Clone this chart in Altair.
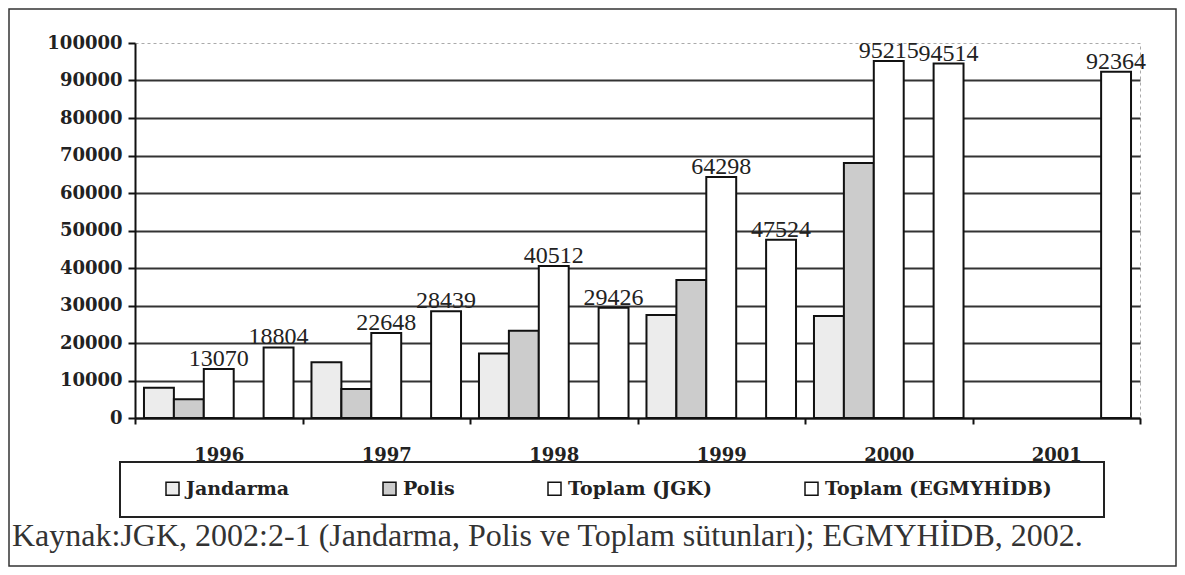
import altair as alt
import pandas as pd

years = ["1996", "1997", "1998", "1999", "2000", "2001"]
series_names = ["Jandarma", "Polis", "Toplam (JGK)", "Toplam (EGMYHİDB)"]
jandarma = [8100, 14900, 17200, 27500, 27200, None]
polis = [4970, 7748, 23300, 36800, 68000, None]
toplam_jgk = [13070, 22648, 40512, 64298, 95215, None]
toplam_egm = [18804, 28439, 29426, 47524, 94514, 92364]
y_ticks = list(range(0, 100001, 10000))
caption = "Kaynak:JGK, 2002:2-1 (Jandarma, Polis ve Toplam sütunları); EGMYHİDB, 2002."

rows = []
for name, vals in zip(series_names, [jandarma, polis, toplam_jgk, toplam_egm]):
    for yr, v in zip(years, vals):
        if v is not None:
            rows.append({"year": yr, "series": name, "value": v})
df = pd.DataFrame(rows)

SERIF = "Liberation Serif"
BOLD_SERIF = "DejaVu Serif"

slot_domain = ["Jandarma", "Polis", "Toplam (JGK)", "-", "Toplam (EGMYHİDB)"]
fill_range = ["#ececec", "#cccccc", "#ffffff", "#ffffff"]

x_axis = alt.Axis(title=None, labelAngle=0, tickBand="extent", tickSize=6,
                  labelPadding=22, domainColor="#111", domainWidth=2,
                  tickColor="#111", tickWidth=2, grid=False,
                  labelFont=BOLD_SERIF, labelFontWeight="bold",
                  labelFontSize=18, labelColor="#222")
y_axis = alt.Axis(title=None, values=y_ticks, tickCount=11, format="d", tickSize=7,
                  labelPadding=6, labelOverlap=False, grid=True,
                  gridColor="#333", gridWidth=2,
                  gridOpacity={"condition": {"test": "datum.value === 100000", "value": 0}, "value": 1},
                  domainColor="#111", domainWidth=2, tickColor="#111", tickWidth=2,
                  labelFont=BOLD_SERIF, labelFontWeight="bold",
                  labelFontSize=18, labelColor="#222")
x_scale = alt.Scale(domain=years, paddingInner=0, paddingOuter=0)
xo_scale = alt.Scale(domain=slot_domain, paddingInner=0, paddingOuter=0.3)
y_scale = alt.Scale(domain=[0, 100000], nice=False)

bars = alt.Chart(df).mark_bar(stroke="#111", strokeWidth=2).encode(
    x=alt.X("year:N", sort=years, scale=x_scale, axis=x_axis),
    xOffset=alt.XOffset("series:N", scale=xo_scale),
    y=alt.Y("value:Q", scale=y_scale, axis=y_axis),
    fill=alt.Fill("series:N",
                  scale=alt.Scale(domain=series_names, range=fill_range),
                  legend=alt.Legend(title=None, orient="none", legendX=28, legendY=436,
                                    direction="horizontal", columns=4, columnPadding=90,
                                    symbolType="square", symbolSize=169,
                                    symbolStrokeColor="#111", symbolStrokeWidth=1.5,
                                    labelFont=BOLD_SERIF, labelFontWeight="bold",
                                    labelFontSize=19, labelColor="#222", labelOffset=4,
                                    labelLimit=400)),
)

labels = alt.Chart(df).transform_filter(
    alt.FieldOneOfPredicate(field="series", oneOf=["Toplam (JGK)", "Toplam (EGMYHİDB)"])
).mark_text(font=SERIF, fontSize=24, dy=-3, baseline="alphabetic",
            color="#222").encode(
    x=alt.X("year:N", sort=years, scale=x_scale, axis=x_axis),
    xOffset=alt.XOffset("series:N", scale=xo_scale),
    y=alt.Y("value:Q", scale=y_scale, axis=y_axis),
    text=alt.Text("value:Q", format="d"),
)

one = pd.DataFrame({"k": [0]})
frame = alt.Chart(one).mark_rect(filled=False, stroke="#333", strokeWidth=1.5).encode(
    x=alt.value(-126), x2=alt.value(1041), y=alt.value(-34), y2=alt.value(523))
legend_box = alt.Chart(one).mark_rect(filled=False, stroke="#222", strokeWidth=2).encode(
    x=alt.value(-15), x2=alt.value(969), y=alt.value(419), y2=alt.value(474))
cap = alt.Chart(one).mark_text(font=SERIF, fontSize=32, align="left",
                               baseline="alphabetic", color="#333").encode(
    x=alt.value(-123), y=alt.value(503), text=alt.value(caption))

chart = alt.layer(bars, labels, frame, legend_box, cap).properties(
    width=1005, height=375,
    padding={"left": 127, "top": 35, "right": 37, "bottom": 149},
    autosize=alt.AutoSizeParams(type="none"),
    background="white",
).configure_view(stroke="#aaa", strokeDash=[3, 3], strokeWidth=1)

chart.save("out.html", embed_options={"renderer": "svg", "actions": False})
